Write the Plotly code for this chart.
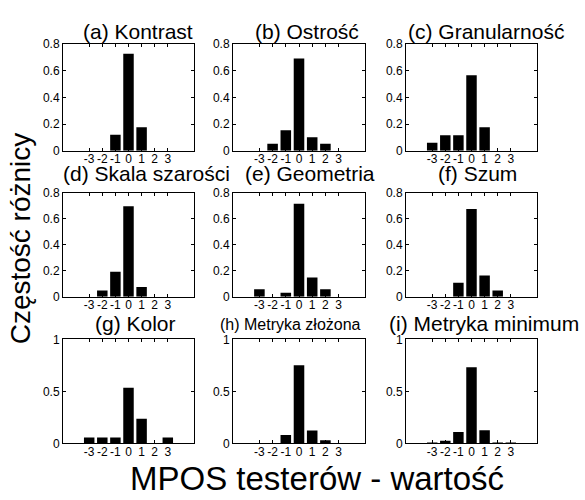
import plotly.graph_objects as go

# ---- data ----
x_vals = [-3, -2, -1, 0, 1, 2, 3]
x_ticktext = ["-3", "-2", "-1", "0", "1", "2", "3"]
panel_titles = ["(a) Kontrast", "(b) Ostrość", "(c) Granularność",
                "(d) Skala szarości", "(e) Geometria", "(f) Szum",
                "(g) Kolor", "(h) Metryka złożona", "(i) Metryka minimum"]
kontrast = [0, 0, 0.12, 0.727, 0.177, 0, 0]
ostrosc = [0, 0.053, 0.155, 0.691, 0.102, 0.053, 0]
granularnosc = [0.061, 0.116, 0.116, 0.565, 0.177, 0, 0]
skala_szarosci = [0, 0.047, 0.191, 0.696, 0.075, 0, 0]
geometria = [0.057, 0, 0.030, 0.714, 0.148, 0.057, 0]
szum = [0, 0, 0.106, 0.674, 0.163, 0.047, 0]
kolor = [0.056, 0.056, 0.056, 0.536, 0.237, 0, 0.056]
metryka_zlozona = [0, 0, 0.081, 0.752, 0.124, 0.031, 0]
metryka_minimum = [0.009, 0.025, 0.109, 0.733, 0.127, 0.006, 0.002]
yticks_top = [0, 0.2, 0.4, 0.6, 0.8]
yticks_bottom = [0, 0.5, 1]

series = [kontrast, ostrosc, granularnosc, skala_szarosci, geometria, szum,
          kolor, metryka_zlozona, metryka_minimum]

W, H = 585, 500
FONT = "Liberation Sans, Arial, sans-serif"

# pixel layout of panels
col_px = [(63, 194), (233, 365), (406, 537)]
row_px = [(38, 148), (191, 298), (342, 449)]
title_px = [(138, 25), (307, 25), (486, 25),
            (146, 171), (310, 171), (477, 171),
            (135, 326), (290, 327), (484, 326)]
title_size = [21, 21, 21, 21, 21, 21, 21, 16, 21]

fig = go.Figure()
layout = dict(
    width=W, height=H,
    margin=dict(l=0, r=0, t=0, b=0),
    paper_bgcolor="white", plot_bgcolor="white",
    showlegend=False,
    font=dict(family=FONT, color="black"),
    bargap=0.2,
    annotations=[],
)

for i, vals in enumerate(series):
    r, c = divmod(i, 3)
    n = i + 1
    xa = "x" if n == 1 else f"x{n}"
    ya = "y" if n == 1 else f"y{n}"
    fig.add_trace(go.Bar(x=x_vals, y=vals, xaxis=xa, yaxis=ya,
                         width=0.8, marker=dict(color="black", line=dict(width=0))))
    x0, x1 = col_px[c]
    y0, y1 = row_px[r]
    axcommon = dict(showline=True, linecolor="black", linewidth=1, mirror="ticks",
                    ticks="inside", ticklen=3, tickcolor="black", tickwidth=1,
                    showgrid=False, zeroline=False, tickfont=dict(size=12, family=FONT))
    layout[f"xaxis{'' if n == 1 else n}"] = dict(
        domain=[x0 / W, x1 / W], anchor=ya, range=[-5, 5],
        tickvals=x_vals, ticktext=x_ticktext, fixedrange=True,
        ticklabelstandoff=-3, **axcommon)
    if r < 2:
        yr, yt = [0, 0.8], yticks_top
        ytt = ["0", "0.2", "0.4", "0.6", "0.8"]
    else:
        yr, yt = [0, 1], yticks_bottom
        ytt = ["0", "0.5", "1"]
    layout[f"yaxis{'' if n == 1 else n}"] = dict(
        domain=[1 - y1 / H, 1 - y0 / H], anchor=xa, range=yr,
        tickvals=yt, ticktext=ytt, fixedrange=True, **axcommon)
    tx, ty = title_px[i]
    layout["annotations"].append(dict(
        text=panel_titles[i], x=tx / W, y=1 - ty / H, xref="paper", yref="paper",
        showarrow=False, xanchor="center", yanchor="middle",
        font=dict(size=title_size[i], family=FONT, color="black")))

layout["annotations"].append(dict(
    text="Częstość różnicy", x=20 / W, y=1 - 238 / H, xref="paper", yref="paper",
    showarrow=False, textangle=-90, xanchor="center", yanchor="middle",
    font=dict(size=28, family=FONT, color="black")))
layout["annotations"].append(dict(
    text="MPOS testerów - wartość", x=317 / W, y=1 - 485 / H, xref="paper", yref="paper",
    showarrow=False, xanchor="center", yanchor="middle",
    font=dict(size=33, family=FONT, color="black")))

fig.update_layout(**layout)
fig.write_html("out.html", config={"displayModeBar": False},
               post_script="document.body.style.margin='0';document.body.style.overflow='hidden';")
